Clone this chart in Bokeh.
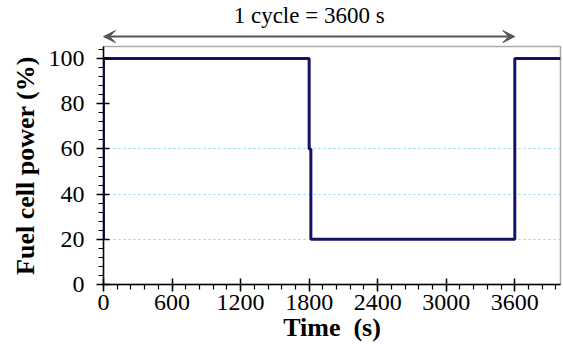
from bokeh.plotting import figure
from bokeh.layouts import column
from bokeh.models import Range1d, FixedTicker, Arrow, VeeHead, Label, SingleIntervalTicker
from bokeh.embed import file_html
from bokeh.resources import INLINE

time_s = [0, 0, 1800, 1800, 1815, 1815, 3600, 3600, 4000]
power = [20, 100, 100, 60, 60, 20, 20, 100, 100]
x_ticks = [0, 600, 1200, 1800, 2400, 3000, 3600]
y_ticks = [0, 20, 40, 60, 80, 100]
grid_levels = [20, 40, 60]
x_max, y_max = 4000, 105.3
cycle_start, cycle_end = 0, 3600
cycle_text = "1 cycle = 3600 s"

FONT = "Liberation Serif"
x_range = Range1d(0, x_max)

# header strip with the cycle arrow
top = figure(width=563, height=44, output_backend="svg", toolbar_location=None,
             x_range=x_range, y_range=Range1d(0, 1),
             min_border_left=103, min_border_right=3, min_border_top=0, min_border_bottom=0)
top.axis.visible = False
top.grid.visible = False
top.outline_line_color = None
top.add_layout(Arrow(x_start=cycle_start, y_start=0.18, x_end=cycle_end, y_end=0.18,
                     line_color="#555555", line_width=2,
                     start=VeeHead(size=12, fill_color="#555555", line_color="#555555"),
                     end=VeeHead(size=12, fill_color="#555555", line_color="#555555")))
top.add_layout(Label(x=(cycle_start + cycle_end) / 2, y=0.66, text=cycle_text,
                     text_font=FONT, text_font_size="23px", text_align="center",
                     text_baseline="middle", text_color="black"))

p = figure(width=563, height=312, output_backend="svg", toolbar_location=None,
           x_range=x_range, y_range=Range1d(0, y_max),
           min_border_left=103, min_border_right=3, min_border_top=2, min_border_bottom=72)
p.outline_line_color = "#aaaaaa"
p.outline_line_width = 1.5

p.line(time_s, power, line_color="#141466", line_width=3)

p.xgrid.visible = False
p.ygrid.ticker = FixedTicker(ticks=grid_levels)
p.ygrid.grid_line_color = "#88d4f2"
p.ygrid.grid_line_dash = "2 3"
p.ygrid.grid_line_width = 1.2

for ax, ticks, minor in ((p.xaxis[0], x_ticks, 5), (p.yaxis[0], y_ticks, 5)):
    ax.ticker = SingleIntervalTicker(interval=ticks[1] - ticks[0], num_minor_ticks=minor)
    ax.axis_line_color = "black"
    ax.axis_line_width = 1.5
    ax.major_tick_line_color = "black"
    ax.minor_tick_line_color = "black"
    ax.major_tick_line_width = 1.5
    ax.minor_tick_line_width = 1.2
    ax.major_tick_in = 6
    ax.major_tick_out = 7
    ax.minor_tick_in = 0
    ax.minor_tick_out = 5
    ax.major_label_text_font = FONT
    ax.major_label_text_color = "black"
    ax.axis_label_text_font = FONT
    ax.axis_label_text_font_style = "bold"
    ax.axis_label_text_color = "black"

p.xaxis[0].major_label_text_font_size = "24px"
p.yaxis[0].major_label_text_font_size = "24px"
p.xaxis[0].major_label_standoff = 3
p.xaxis[0].axis_label = "Time\u00a0\u00a0(s)"
p.xaxis[0].axis_label_text_font_size = "26px"
p.xaxis[0].axis_label_standoff = 0
p.yaxis[0].major_label_standoff = 12
p.yaxis[0].axis_label = "Fuel cell power (%)"
p.yaxis[0].axis_label_text_font_size = "26px"
p.yaxis[0].axis_label_standoff = 6

open("out.html", "w").write(file_html(column(top, p, spacing=0), INLINE))
